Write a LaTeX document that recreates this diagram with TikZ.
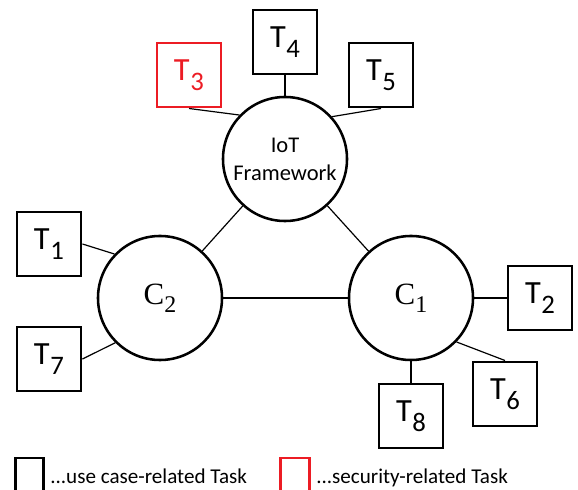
\documentclass[tikz,border=0pt]{standalone}
\usepackage{fontspec}
\setmainfont{Carlito}
\newfontfamily\cfont{Liberation Serif}
\definecolor{secred}{RGB}{236,28,36}
\newcommand{\tsk}[1]{T\kern0.5pt\raisebox{-0.3em}{\fontsize{19}{19}\selectfont #1}}
\begin{document}
\begin{tikzpicture}[x=0.025cm,y=-0.025cm,
  task/.style={draw,line width=2.1pt,minimum size=1.6cm,inner sep=0pt,font=\fontsize{23}{23}\selectfont},
  comp/.style={draw,circle,line width=1.8pt,minimum size=3.1cm,inner sep=0pt},
  link/.style={line width=0.85pt}]
\useasboundingbox (0,0) rectangle (578,490);
\node[comp,align=center,font=\fontsize{16}{20}\selectfont] (iot) at (285,159) {IoT\\Framework};
\node[comp,font=\cfont\fontsize{22}{22}\selectfont] (c2) at (160,298) {C\raisebox{-0.25em}{\fontsize{17}{17}\selectfont 2}};
\node[comp,font=\cfont\fontsize{22}{22}\selectfont] (c1) at (411,298) {C\raisebox{-0.25em}{\fontsize{17}{17}\selectfont 1}};
\node[task,draw=secred,text=secred] (t3) at (189,75) {\tsk{3}};
\node[task] (t4) at (285,42) {\tsk{4}};
\node[task] (t5) at (381,75) {\tsk{5}};
\node[task] (t1) at (49,244) {\tsk{1}};
\node[task] (t7) at (49,359) {\tsk{7}};
\node[task] (t2) at (540,298) {\tsk{2}};
\node[task] (t6) at (505,394) {\tsk{6}};
\node[task] (t8) at (411,416) {\tsk{8}};
\draw[link] (t3.south) -- (iot.136);
\draw[link] (t4) -- (iot);
\draw[link] (t5.south) -- (iot.42);
\draw[link] (c2) -- (iot);
\draw[link] (iot) -- (c1);
\draw[link] (c2) -- (c1);
\draw[link] (t1.east) -- (c2.136);
\draw[link] (t7.east) -- (c2.225);
\draw[link] (c1) -- (t2);
\draw[link] (c1) -- (t8);
\draw[link] (c1.-44) -- (t6.north);
% legend
\begin{scope}
\clip (0,0) rectangle (578,490);
\node[draw,line width=2.1pt,minimum width=0.72cm,minimum height=0.9cm,inner sep=0pt] (kuse) at (29.5,476) {};
\node[draw=secred,line width=2.1pt,minimum width=0.72cm,minimum height=0.9cm,inner sep=0pt] (ksec) at (295,476) {};
\end{scope}
\node[anchor=base west,inner sep=0pt,font=\fontsize{15}{15}\selectfont] (luse) at (50,483) {...use case-related Task};
\node[anchor=base west,inner sep=0pt,font=\fontsize{15}{15}\selectfont] (lsec) at (316,483) {...security-related Task};
\end{tikzpicture}
\end{document}
